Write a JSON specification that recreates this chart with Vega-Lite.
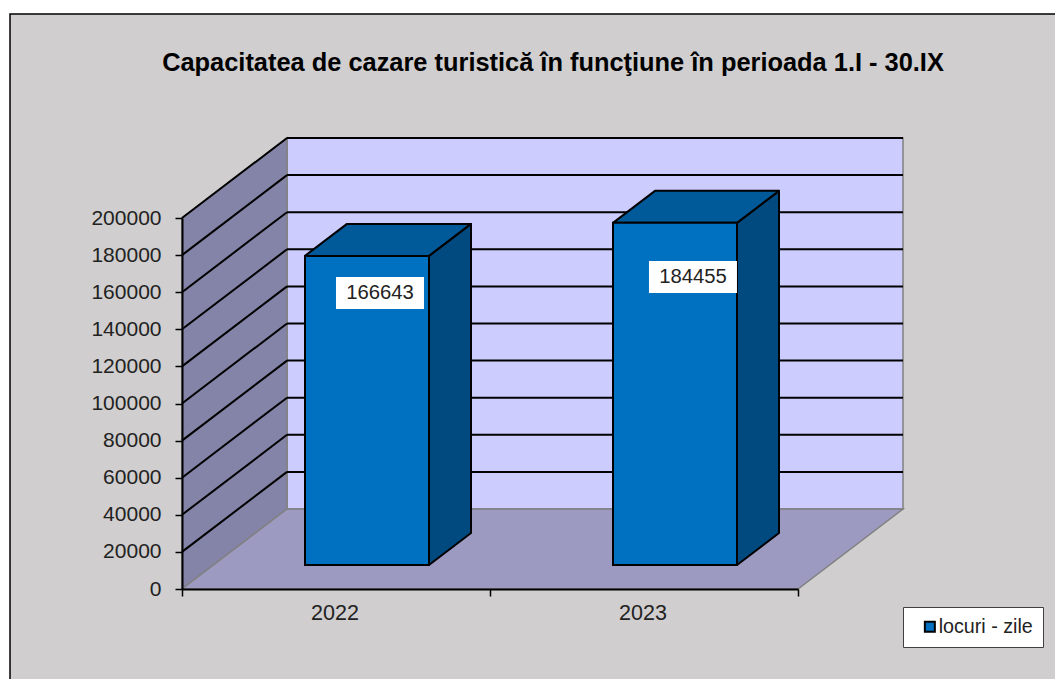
{
"$schema":"https://vega.github.io/schema/vega-lite/v6.json",
"autosize":"none",
"width":616,"height":371,
"padding":{"left":182,"top":218,"right":257,"bottom":90},
"background":"#ffffff",
"title":{"text":"Capacitatea de cazare turistică în funcţiune în perioada 1.I - 30.IX","font":"Liberation Sans","fontSize":25.4,"fontWeight":"bold","color":"#000000","anchor":"middle","frame":"group","dx":63,"offset":-65},
"config":{"view":{"stroke":null},"font":"Liberation Sans"},
"datasets":{
"series":[
{"year":"2022","value":166643,"series":"locuri - zile","labelX":0.3214,"labelY":159568},
{"year":"2023","value":184455,"series":"locuri - zile","labelX":0.8295,"labelY":168193}],
"levels":[{"level":20000},{"level":40000},{"level":60000},{"level":80000},{"level":100000},{"level":120000},{"level":140000},{"level":160000},{"level":180000},{"level":200000}],
"shell":[
{"part":"wall","x":0.17045,"low":43127,"high":243127},
{"part":"wall","x":1.17045,"low":43127,"high":243127},
{"part":"leftwall","x":0,"low":0,"high":200000},
{"part":"leftwall","x":0.17045,"low":43127,"high":243127},
{"part":"floor","x":0,"low":0,"high":0},
{"part":"floor","x":0.17045,"low":0,"high":43127},
{"part":"floor","x":1,"low":0,"high":43127},
{"part":"floor","x":1.17045,"low":43127,"high":43127}],
"faces":[
{"part":"barside","year":"2022","x":0.40097,"low":0,"high":166643},
{"part":"barside","year":"2022","x":0.46916,"low":17251,"high":183894},
{"part":"bartop","year":"2022","x":0.19968,"low":166643,"high":166643},
{"part":"bartop","year":"2022","x":0.26786,"low":166643,"high":183894},
{"part":"bartop","year":"2022","x":0.40097,"low":166643,"high":183894},
{"part":"bartop","year":"2022","x":0.46916,"low":183894,"high":183894},
{"part":"barside","year":"2023","x":0.90097,"low":0,"high":184455},
{"part":"barside","year":"2023","x":0.96916,"low":17251,"high":201706},
{"part":"bartop","year":"2023","x":0.69968,"low":184455,"high":184455},
{"part":"bartop","year":"2023","x":0.76786,"low":184455,"high":201706},
{"part":"bartop","year":"2023","x":0.90097,"low":184455,"high":201706},
{"part":"bartop","year":"2023","x":0.96916,"low":201706,"high":201706}],
"frame":[{"x":-0.2792,"low":-50135,"high":309973},{"x":1.4205,"low":-50135,"high":309973}]
},
"resolve":{"scale":{"x":"independent"}},
"layer":[
{"data":{"name":"frame"},"mark":{"type":"area","fill":"#D0CECE","stroke":"#000000","strokeWidth":1.5,"clip":false},
 "encoding":{"x":{"field":"x","type":"quantitative","scale":{"domain":[0,1],"nice":false,"zero":false},"axis":null},
 "y":{"field":"low","type":"quantitative","stack":null,"scale":{"domain":[0,200000],"nice":false},
   "axis":{"title":null,"grid":false,"values":[0,20000,40000,60000,80000,100000,120000,140000,160000,180000,200000],"format":"d","tickSize":7,"tickWidth":1.5,"tickColor":"#000000","domainColor":"#000000","domainWidth":2,"labelFont":"Liberation Sans","labelFontSize":21,"labelColor":"#222222","labelPadding":14,"labelFlush":false,"labelOverlap":false,"zindex":1}},
 "y2":{"field":"high"}}},
{"data":{"name":"shell"},"mark":{"type":"area","stroke":"#808080","strokeWidth":1.5},
 "encoding":{"x":{"field":"x","type":"quantitative","scale":{"domain":[0,1],"nice":false,"zero":false},"axis":null},
 "y":{"field":"low","type":"quantitative","stack":null,
   "axis":{"title":null,"grid":false,"values":[0,20000,40000,60000,80000,100000,120000,140000,160000,180000,200000],"format":"d","tickSize":7,"tickWidth":1.5,"tickColor":"#000000","domainColor":"#000000","domainWidth":2,"labelFont":"Liberation Sans","labelFontSize":21,"labelColor":"#222222","labelPadding":14,"labelFlush":false,"labelOverlap":false,"zindex":1}},"y2":{"field":"high"},
 "fill":{"field":"part","type":"nominal","legend":null,"scale":{"domain":["wall","leftwall","floor","barside","bartop"],"range":["#CCCCFF","#8483A8","#9C9AC1","#004A80","#005A9A"]}}}},
{"data":{"name":"levels"},"mark":{"type":"rule","color":"#000000","strokeWidth":2,"y2Offset":-80},
 "encoding":{"x":{"datum":0,"type":"quantitative","scale":{"domain":[0,1],"nice":false,"zero":false},"axis":null},"x2":{"datum":0.17045},"y":{"field":"level","type":"quantitative",
   "axis":{"title":null,"grid":false,"values":[0,20000,40000,60000,80000,100000,120000,140000,160000,180000,200000],"format":"d","tickSize":7,"tickWidth":1.5,"tickColor":"#000000","domainColor":"#000000","domainWidth":2,"labelFont":"Liberation Sans","labelFontSize":21,"labelColor":"#222222","labelPadding":14,"labelFlush":false,"labelOverlap":false,"zindex":1}},"y2":{"field":"level"}}},
{"data":{"name":"levels"},"mark":{"type":"rule","color":"#000000","strokeWidth":2,"yOffset":-80,"y2Offset":-80},
 "encoding":{"x":{"datum":0.17045,"type":"quantitative","scale":{"domain":[0,1],"nice":false,"zero":false},"axis":null},"x2":{"datum":1.17045},"y":{"field":"level","type":"quantitative",
   "axis":{"title":null,"grid":false,"values":[0,20000,40000,60000,80000,100000,120000,140000,160000,180000,200000],"format":"d","tickSize":7,"tickWidth":1.5,"tickColor":"#000000","domainColor":"#000000","domainWidth":2,"labelFont":"Liberation Sans","labelFontSize":21,"labelColor":"#222222","labelPadding":14,"labelFlush":false,"labelOverlap":false,"zindex":1}},"y2":{"field":"level"}}},
{"data":{"name":"faces"},"mark":{"type":"area","stroke":"#000000","strokeWidth":2,"yOffset":-24,"y2Offset":-24,"strokeJoin":"round"},
 "encoding":{"x":{"field":"x","type":"quantitative","scale":{"domain":[0,1],"nice":false,"zero":false},"axis":null},
 "y":{"field":"low","type":"quantitative","stack":null,
   "axis":{"title":null,"grid":false,"values":[0,20000,40000,60000,80000,100000,120000,140000,160000,180000,200000],"format":"d","tickSize":7,"tickWidth":1.5,"tickColor":"#000000","domainColor":"#000000","domainWidth":2,"labelFont":"Liberation Sans","labelFontSize":21,"labelColor":"#222222","labelPadding":14,"labelFlush":false,"labelOverlap":false,"zindex":1}},"y2":{"field":"high"},"detail":{"field":"year"},
 "fill":{"field":"part","type":"nominal","legend":null,"scale":{"domain":["wall","leftwall","floor","barside","bartop"],"range":["#CCCCFF","#8483A8","#9C9AC1","#004A80","#005A9A"]}}}},
{"data":{"name":"series"},"mark":{"type":"bar","stroke":"#000000","strokeWidth":2,"width":124,"xOffset":31,"yOffset":-24,"y2Offset":-24},
 "encoding":{"x":{"field":"year","type":"nominal","scale":{"domain":["2022","2023"],"paddingInner":0,"paddingOuter":0},
   "axis":{"title":null,"labelAngle":0,"tickBand":"extent","tickSize":7,"tickWidth":1.5,"tickColor":"#000000","domainColor":"#000000","domainWidth":2,"labelFont":"Liberation Sans","labelFontSize":21.5,"labelColor":"#222222","labelPadding":6,"labelOffset":-1.5,"zindex":1}},
 "y":{"field":"value","type":"quantitative","stack":null,
   "axis":{"title":null,"grid":false,"values":[0,20000,40000,60000,80000,100000,120000,140000,160000,180000,200000],"format":"d","tickSize":7,"tickWidth":1.5,"tickColor":"#000000","domainColor":"#000000","domainWidth":2,"labelFont":"Liberation Sans","labelFontSize":21,"labelColor":"#222222","labelPadding":14,"labelFlush":false,"labelOverlap":false,"zindex":1}},"y2":{"datum":0},
 "color":{"field":"series","type":"nominal","scale":{"range":["#0070C0"]},
   "legend":{"orient":"none","legendX":721,"legendY":389,"title":null,"fillColor":"#ffffff","strokeColor":"#404040","padding":10,"symbolType":"square","symbolSize":100,"symbolStrokeColor":"#000000","symbolStrokeWidth":2,"symbolOffset":7,"labelFont":"Liberation Sans","labelFontSize":19.7,"labelColor":"#222222","labelOffset":-1}}}},
{"data":{"name":"series"},"mark":{"type":"rect","fill":"#ffffff","width":88,"height":32},
 "encoding":{"x":{"field":"labelX","type":"quantitative","scale":{"domain":[0,1],"nice":false,"zero":false},"axis":null},"y":{"field":"labelY","type":"quantitative",
   "axis":{"title":null,"grid":false,"values":[0,20000,40000,60000,80000,100000,120000,140000,160000,180000,200000],"format":"d","tickSize":7,"tickWidth":1.5,"tickColor":"#000000","domainColor":"#000000","domainWidth":2,"labelFont":"Liberation Sans","labelFontSize":21,"labelColor":"#222222","labelPadding":14,"labelFlush":false,"labelOverlap":false,"zindex":1}}}},
{"data":{"name":"series"},"mark":{"type":"text","font":"Liberation Sans","fontSize":20.3,"color":"#222222","align":"center","baseline":"middle"},
 "encoding":{"x":{"field":"labelX","type":"quantitative","scale":{"domain":[0,1],"nice":false,"zero":false},"axis":null},"y":{"field":"labelY","type":"quantitative",
   "axis":{"title":null,"grid":false,"values":[0,20000,40000,60000,80000,100000,120000,140000,160000,180000,200000],"format":"d","tickSize":7,"tickWidth":1.5,"tickColor":"#000000","domainColor":"#000000","domainWidth":2,"labelFont":"Liberation Sans","labelFontSize":21,"labelColor":"#222222","labelPadding":14,"labelFlush":false,"labelOverlap":false,"zindex":1}},"text":{"field":"value","type":"quantitative","format":"d"}}}
]
}
